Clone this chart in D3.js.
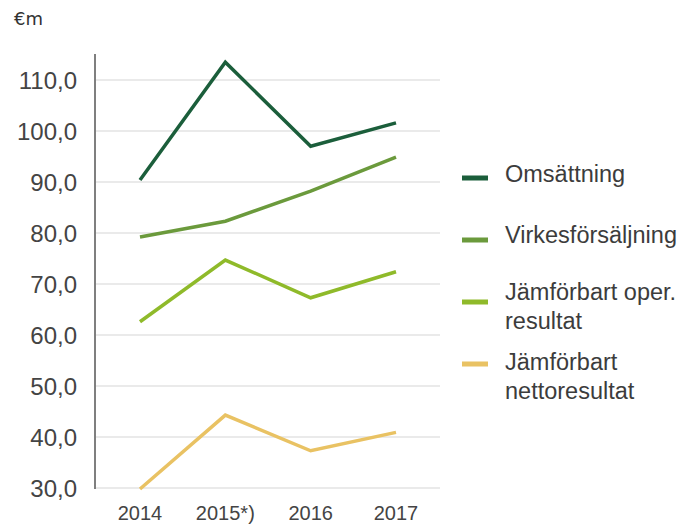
<!DOCTYPE html>
<html>
<head>
<meta charset="utf-8">
<script src="https://cdn.jsdelivr.net/npm/d3@7"></script>
<style>
  body { margin: 0; background: #fff; }
  text { font-family: "Liberation Sans", Arial, sans-serif; }
</style>
</head>
<body>
<svg id="chart"></svg>
<script>
var years = ["2014", "2015*)", "2016", "2017"];
var omsattning = [90.4, 113.5, 97.0, 101.6];
var virkes = [79.2, 82.3, 88.2, 94.9];
var operResultat = [62.6, 74.7, 67.3, 72.4];
var nettoResultat = [29.8, 44.3, 37.3, 40.9];
var yTicks = [30, 40, 50, 60, 70, 80, 90, 100, 110];

var series = [
  { name: ["Omsättning"], values: omsattning, color: "#1b5e3b" },
  { name: ["Virkesförsäljning"], values: virkes, color: "#6b9a3c" },
  { name: ["Jämförbart oper.", "resultat"], values: operResultat, color: "#8fba2a" },
  { name: ["Jämförbart", "nettoresultat"], values: nettoResultat, color: "#e9c263" }
];

var width = 685, height = 524;
var svg = d3.select("#chart").attr("width", width).attr("height", height);

var x = d3.scalePoint().domain(years).range([140, 396]);
var y = d3.scaleLinear().domain([30, 110]).range([488, 80]);

// grid
svg.append("g")
  .selectAll("line")
  .data(yTicks)
  .enter()
  .append("line")
  .attr("x1", 96).attr("x2", 440)
  .attr("y1", function(d){ return y(d); })
  .attr("y2", function(d){ return y(d); })
  .attr("stroke", "#e3e3e3")
  .attr("stroke-width", 1.5);

// y axis line
svg.append("line")
  .attr("x1", 95).attr("x2", 95)
  .attr("y1", 54).attr("y2", 489)
  .attr("stroke", "#555")
  .attr("stroke-width", 1.5);

// y tick labels
svg.append("g")
  .selectAll("text")
  .data(yTicks)
  .enter()
  .append("text")
  .attr("x", 77)
  .attr("y", function(d){ return y(d) + 9; })
  .attr("text-anchor", "end")
  .attr("font-size", "24px")
  .attr("fill", "#444")
  .text(function(d){ return d.toFixed(1).replace(".", ","); });

// x labels
svg.append("g")
  .selectAll("text")
  .data(years)
  .enter()
  .append("text")
  .attr("x", function(d){ return x(d); })
  .attr("y", 520)
  .attr("text-anchor", "middle")
  .attr("font-size", "20px")
  .attr("fill", "#444")
  .text(function(d){ return d; });

svg.append("text")
  .attr("x", 14).attr("y", 25)
  .attr("font-size", "18px")
  .style("font-family", "'DejaVu Sans'")
  .attr("fill", "#333")
  .text("€m");

var line = d3.line()
  .x(function(d, i){ return x(years[i]); })
  .y(function(d){ return y(d); });

svg.append("g")
  .selectAll("path")
  .data(series)
  .enter()
  .append("path")
  .attr("d", function(d){ return line(d.values); })
  .attr("fill", "none")
  .attr("stroke", function(d){ return d.color; })
  .attr("stroke-width", 3.5);

// legend
var swatchY = [178, 240, 302, 364];
var textY = [182, 243, 300, 370];
var leg = svg.append("g")
  .selectAll("g")
  .data(series)
  .enter()
  .append("g");

leg.append("rect")
  .attr("x", 462)
  .attr("y", function(d, i){ return swatchY[i] - 2.5; })
  .attr("width", 26).attr("height", 5)
  .attr("fill", function(d){ return d.color; });

leg.append("text")
  .attr("y", function(d, i){ return textY[i]; })
  .attr("font-size", "23.5px")
  .attr("fill", "#3c3c3c")
  .selectAll("tspan")
  .data(function(d){ return d.name; })
  .enter()
  .append("tspan")
  .attr("x", 505)
  .attr("dy", function(d, i){ return i === 0 ? 0 : 29; })
  .text(function(d){ return d; });
</script>
</body>
</html>
